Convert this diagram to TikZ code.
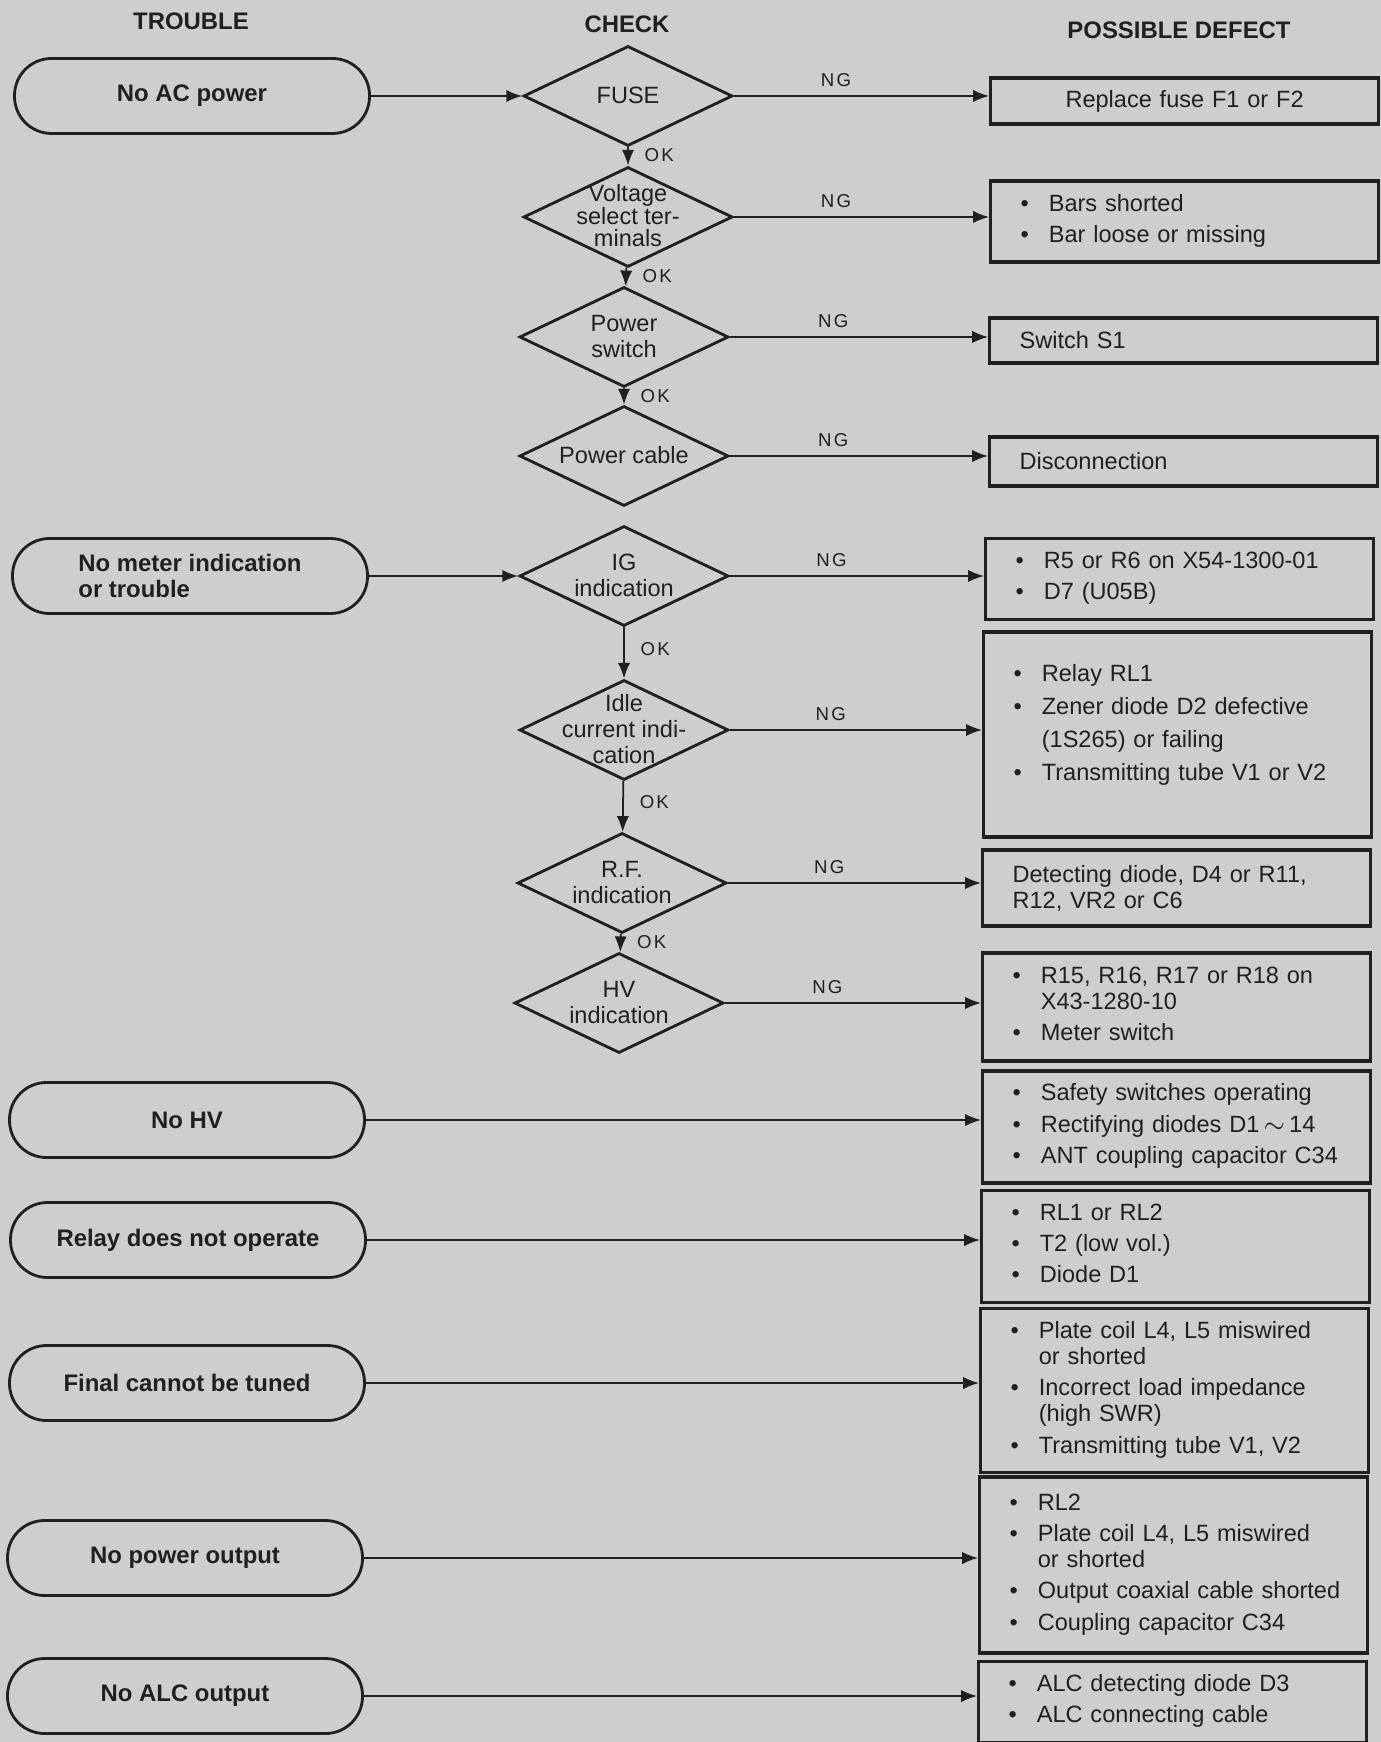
\documentclass[tikz,border=0pt]{standalone}
\usepackage{fontspec}
\setmainfont{Liberation Sans}
\newfontfamily\tagfont[LetterSpace=12]{Liberation Sans}
\usetikzlibrary{shapes.geometric,arrows.meta}

\definecolor{paper}{RGB}{206,206,206}
\definecolor{ink}{RGB}{32,32,32}

% text set in a diamond without making it grow
\newcommand{\checktext}[1]{\makebox[0pt]{\smash{\raisebox{-2.3pt}{\begin{tabular}{@{}c@{}}#1\end{tabular}}}}}
% bullet list for the defect boxes
\newcommand{\defectlist}[1]{\begin{tabular}{@{}c@{\hspace{0.2cm}}l@{}}#1\end{tabular}}

\begin{document}
\begin{tikzpicture}[>={Latex[length=4.5pt,width=3.5pt]}, color=ink, font=\fontsize{6.7}{7.4}\selectfont]
    % Define styles
    \tikzset{
        trouble/.style={
            draw,
            line width=0.8pt,
            rectangle,
            rounded corners=0.37cm,
            minimum width=3.55cm,
            minimum height=0.75cm,
            font=\fontsize{6.8}{7.4}\selectfont\bfseries,
            align=left
        },
        check/.style={
            draw,
            line width=0.8pt,
            diamond,
            inner sep=0pt,
            minimum width=2.09cm,
            minimum height=1.0cm
        },
        defect/.style={
            draw,
            line width=0.9pt,
            rectangle,
            anchor=west,
            minimum width=3.88cm,
            text width=3.28cm,
            inner xsep=0.3cm,
            align=left
        },
        header/.style={
            font=\fontsize{6.8}{8}\selectfont\bfseries
        },
        tag/.style={
            font=\fontsize{5.3}{6}\selectfont\tagfont,
            inner sep=1.5pt
        },
        link/.style={
            ->,
            line width=0.5pt
        }
    }

    % Paper
    \fill[paper] (0,0) rectangle (13.81,-17.42);
    \useasboundingbox (0,0) rectangle (13.81,-17.42);

    % Column heads
    \node[header] (hTrouble) at (1.91,-0.21) {TROUBLE};
    \node[header] (hCheck) at (6.27,-0.24) {CHECK};
    \node[header] (hDefect) at (11.79,-0.30) {POSSIBLE DEFECT};

    % Troubles
    \node[trouble] (noAC) at (1.92,-0.96) {No AC power};
    \node[trouble] (noMeter) at (1.90,-5.76) {No meter indication\\or trouble};
    \node[trouble] (noHV) at (1.87,-11.20) {No HV};
    \node[trouble] (relay) at (1.88,-12.40) {Relay does not operate};
    \node[trouble] (final) at (1.87,-13.83) {Final cannot be tuned};
    \node[trouble] (noPower) at (1.85,-15.58) {No power output};
    \node[trouble] (noALC) at (1.85,-16.96) {No ALC output};

    % Checks
    \node[check] (fuse) at (6.28,-0.96) {\checktext{FUSE}};
    \node[check] (volt) at (6.28,-2.17) {\checktext{Voltage\\[-1.1pt]select ter-\\[-1.1pt]minals}};
    \node[check] (pswitch) at (6.24,-3.37) {\checktext{Power\\switch}};
    \node[check] (pcable) at (6.24,-4.56) {\checktext{Power cable}};
    \node[check] (ig) at (6.24,-5.76) {\checktext{IG\\indication}};
    \node[check] (idle) at (6.24,-7.30) {\checktext{Idle\\current indi-\\cation}};
    \node[check] (rf) at (6.22,-8.83) {\checktext{R.F.\\indication}};
    \node[check] (hv) at (6.19,-10.03) {\checktext{HV\\indication}};

    % Possible defects
    \node[defect, minimum height=0.46cm, align=center] (dFuse) at (9.89,-1.01) {Replace fuse F1 or F2};
    \node[defect, minimum height=0.81cm] (dVolt) at (9.89,-2.215) {\defectlist{%
        \textbullet & Bars shorted\\[1.5pt]
        \textbullet & Bar loose or missing}};
    \node[defect, minimum height=0.45cm] (dSwitch) at (9.88,-3.405) {Switch S1};
    \node[defect, minimum height=0.49cm] (dCable) at (9.88,-4.615) {Disconnection};
    \node[defect, minimum height=0.78cm] (dIG) at (9.84,-5.79) {\defectlist{%
        \textbullet & R5 or R6 on X54-1300-01\\[1.5pt]
        \textbullet & D7 (U05B)}};
    \node[defect, minimum height=2.05cm] (dIdle) at (9.82,-7.345) {\defectlist{%
        \textbullet & Relay RL1\\[2pt]
        \textbullet & Zener diode D2 defective\\[2pt]
                    & (1S265) or failing\\[2pt]
        \textbullet & Transmitting tube V1 or V2\\[5pt]}};
    \node[defect, minimum height=0.76cm] (dRF) at (9.81,-8.88) {Detecting diode, D4 or R11,\\R12, VR2 or C6};
    \node[defect, minimum height=1.08cm] (dHV) at (9.81,-10.07) {\defectlist{%
        \textbullet & R15, R16, R17 or R18 on\\
                    & X43-1280-10\\[1.5pt]
        \textbullet & Meter switch}};
    \node[defect, minimum height=1.06cm] (dNoHV) at (9.81,-11.27) {\defectlist{%
        \textbullet & Safety switches operating\\[1.5pt]
        \textbullet & Rectifying diodes D1\,$\sim$\,14\\[1.5pt]
        \textbullet & ANT coupling capacitor C34}};
    \node[defect, minimum height=1.07cm] (dRelay) at (9.80,-12.465) {\defectlist{%
        \textbullet & RL1 or RL2\\[1.5pt]
        \textbullet & T2 (low vol.)\\[1.5pt]
        \textbullet & Diode D1}};
    \node[defect, minimum height=1.53cm] (dFinal) at (9.79,-13.905) {\defectlist{%
        \textbullet & Plate coil L4, L5 miswired\\
                    & or shorted\\[1.5pt]
        \textbullet & Incorrect load impedance\\
                    & (high SWR)\\[1.5pt]
        \textbullet & Transmitting tube V1, V2}};
    \node[defect, minimum height=1.76cm] (dPower) at (9.78,-15.65) {\defectlist{%
        \textbullet & RL2\\[1.5pt]
        \textbullet & Plate coil L4, L5 miswired\\
                    & or shorted\\[1.5pt]
        \textbullet & Output coaxial cable shorted\\[1.5pt]
        \textbullet & Coupling capacitor C34}};
    \node[defect, minimum height=0.76cm] (dALC) at (9.77,-17.02) {\defectlist{%
        \textbullet & ALC detecting diode D3\\[1.5pt]
        \textbullet & ALC connecting cable}};

    % Trouble to first check
    \draw[link] (noAC) -- (fuse);
    \draw[link] (noMeter) -- (ig);

    % OK chain
    \draw[link] (fuse) -- (volt) node[tag, pos=0.45, right=3pt] {OK};
    \draw[link] (volt) -- (pswitch) node[tag, pos=0.45, right=3pt] {OK};
    \draw[link] (pswitch) -- (pcable) node[tag, pos=0.45, right=3pt] {OK};
    \draw[link] (ig) -- (idle) node[tag, pos=0.42, right=3pt] {OK};
    \draw[link] (idle) -- (rf) node[tag, pos=0.42, right=3pt] {OK};
    \draw[link] (rf) -- (hv) node[tag, pos=0.45, right=3pt] {OK};

    % NG branches
    \foreach \c/\d in {fuse/dFuse, volt/dVolt, pswitch/dSwitch, pcable/dCable, ig/dIG, idle/dIdle, rf/dRF, hv/dHV}
        \draw[link] (\c) -- (\c -| \d.west) node[tag, pos=0.4, above=1pt] {NG};

    % Troubles straight to defects
    \foreach \t/\d in {noHV/dNoHV, relay/dRelay, final/dFinal, noPower/dPower, noALC/dALC}
        \draw[link] (\t) -- (\t -| \d.west);

\end{tikzpicture}
\end{document}
